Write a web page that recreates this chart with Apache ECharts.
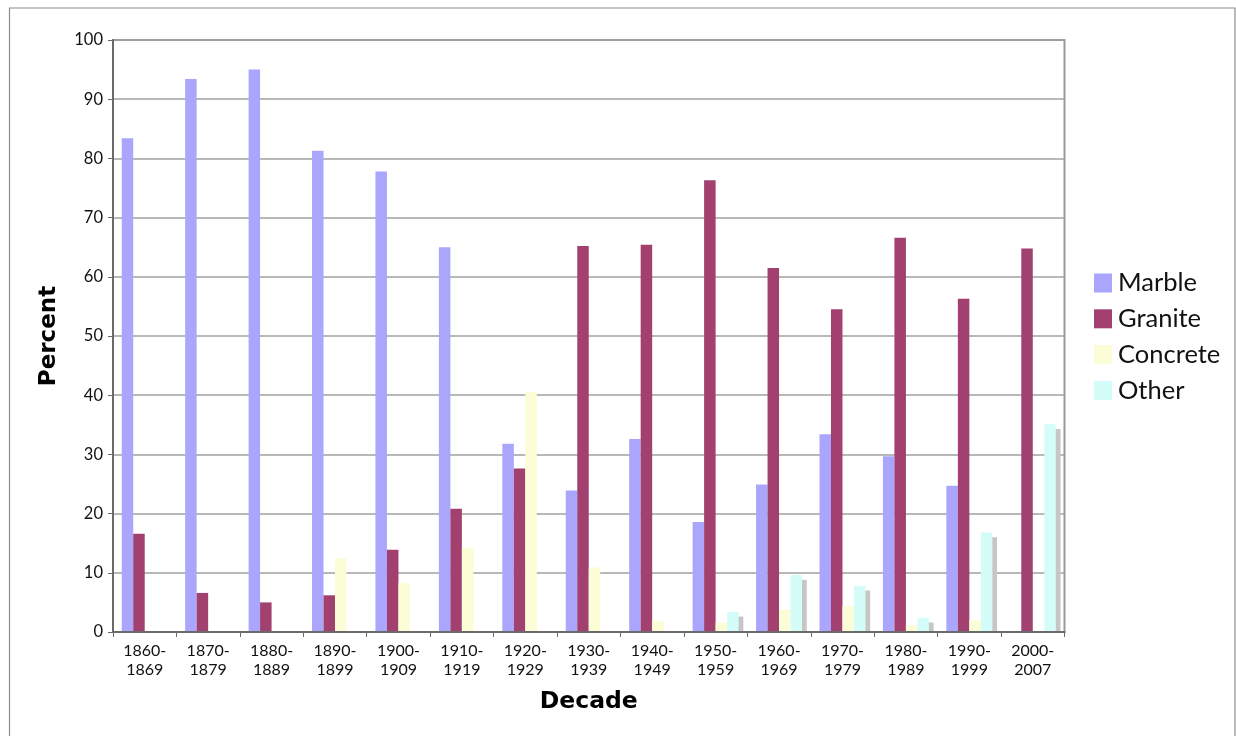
<!DOCTYPE html>
<html>
<head>
<meta charset="utf-8">
<script src="https://cdn.jsdelivr.net/npm/echarts@6/dist/echarts.min.js"></script>
<style>
html,body{margin:0;padding:0;background:#fff;}
#chart{width:1236px;height:736px;}
</style>
</head>
<body>
<div id="chart"></div>
<script>
const categories = ['1860-1869','1870-1879','1880-1889','1890-1899','1900-1909','1910-1919','1920-1929','1930-1939','1940-1949','1950-1959','1960-1969','1970-1979','1980-1989','1990-1999','2000-2007'];
const marble   = [83.4, 93.4, 95.0, 81.3, 77.8, 65.0, 31.8, 23.9, 32.6, 18.6, 24.9, 33.4, 29.7, 24.7, 0];
const granite  = [16.6, 6.6, 5.0, 6.2, 13.9, 20.8, 27.6, 65.2, 65.4, 76.3, 61.5, 54.5, 66.6, 56.3, 64.8];
const concrete = [0, 0, 0, 12.5, 8.3, 14.2, 40.5, 10.9, 1.9, 1.6, 3.8, 4.4, 1.1, 2.0, 0];
const other    = [0, 0, 0, 0, 0, 0, 0, 0, 0, 3.4, 9.6, 7.8, 2.4, 16.8, 35.1];
const seriesNames = ['Marble','Granite','Concrete','Other'];
const yTicks = {min: 0, max: 100, interval: 10};

const FONT = 'Lato, "Open Sans", sans-serif';
const TITLE_FONT = '"DejaVu Sans", sans-serif';
const colors = ['#aaa6fe', '#a2406f', '#fbfdd6', '#d4fcf9'];
const chart = echarts.init(document.getElementById('chart'), null, {renderer: 'canvas'});

function barSeries(name, data, color, extra) {
  return Object.assign({
    name: name, type: 'bar', data: data,
    barWidth: 11.5, barGap: '0%',
    itemStyle: {color: color},
    emphasis: {disabled: true},
    animation: false
  }, extra || {});
}

chart.setOption({
  backgroundColor: '#fff',
  animation: false,
  grid: {left: 113, top: 40, right: 171.5, bottom: 104, show: true, borderColor: '#999', borderWidth: 2, backgroundColor: 'transparent'},
  legend: {
    orient: 'vertical', left: 1094, top: 270, padding: 0,
    itemWidth: 18, itemHeight: 19, itemGap: 9.8,
    icon: 'rect',
    textStyle: {fontFamily: FONT, fontSize: 25.5, color: '#111', padding: [0,0,0,1]},
    data: seriesNames
  },
  xAxis: {
    type: 'category', data: categories, z: 60,
    axisLine: {lineStyle: {color: '#6a6a6a', width: 2}},
    axisTick: {show: true, length: 5, lineStyle: {color: '#6a6a6a', width: 1}},
    axisLabel: {fontFamily: FONT, fontSize: 16, color: '#111', margin: 9, lineHeight: 19, interval: 0,
      formatter: v => v.replace('-', '-\n')},
    name: 'Decade', nameLocation: 'middle', nameGap: 58,
    nameTextStyle: {fontFamily: TITLE_FONT, fontSize: 23.5, fontWeight: 'bold', color: '#000'}
  },
  yAxis: {
    type: 'value', min: yTicks.min, max: yTicks.max, interval: yTicks.interval,
    axisLine: {show: true, lineStyle: {color: '#6a6a6a', width: 2}},
    axisTick: {show: true, length: 5, lineStyle: {color: '#6a6a6a', width: 1}},
    axisLabel: {fontFamily: FONT, fontSize: 16.5, color: '#111', margin: 10},
    splitLine: {lineStyle: {color: '#a0a0a0', width: 1.5}},
    name: 'Percent', nameLocation: 'middle', nameGap: 52, nameRotate: 90,
    nameTextStyle: {fontFamily: TITLE_FONT, fontSize: 23, fontWeight: 'bold', color: '#000'}
  },
  graphic: [
    {type: 'rect', z: 50, silent: true, shape: {x: 114, y: 633, width: 952, height: 6}, style: {fill: '#fff'}},
    {type: 'rect', z: 100, silent: true, shape: {x: 9.5, y: 8, width: 1225.5, height: 740}, style: {fill: 'none', stroke: '#8c8c8c', lineWidth: 1.2}}
  ],
  series: [
    barSeries('Marble', marble, colors[0]),
    barSeries('Granite', granite, colors[1]),
    barSeries('Concrete', concrete, colors[2]),
    barSeries('Other', other, colors[3], {
      itemStyle: {color: colors[3], shadowColor: '#c6c6c6', shadowBlur: 0, shadowOffsetX: 4.7, shadowOffsetY: 4.7}
    })
  ]
});
</script>
</body>
</html>
